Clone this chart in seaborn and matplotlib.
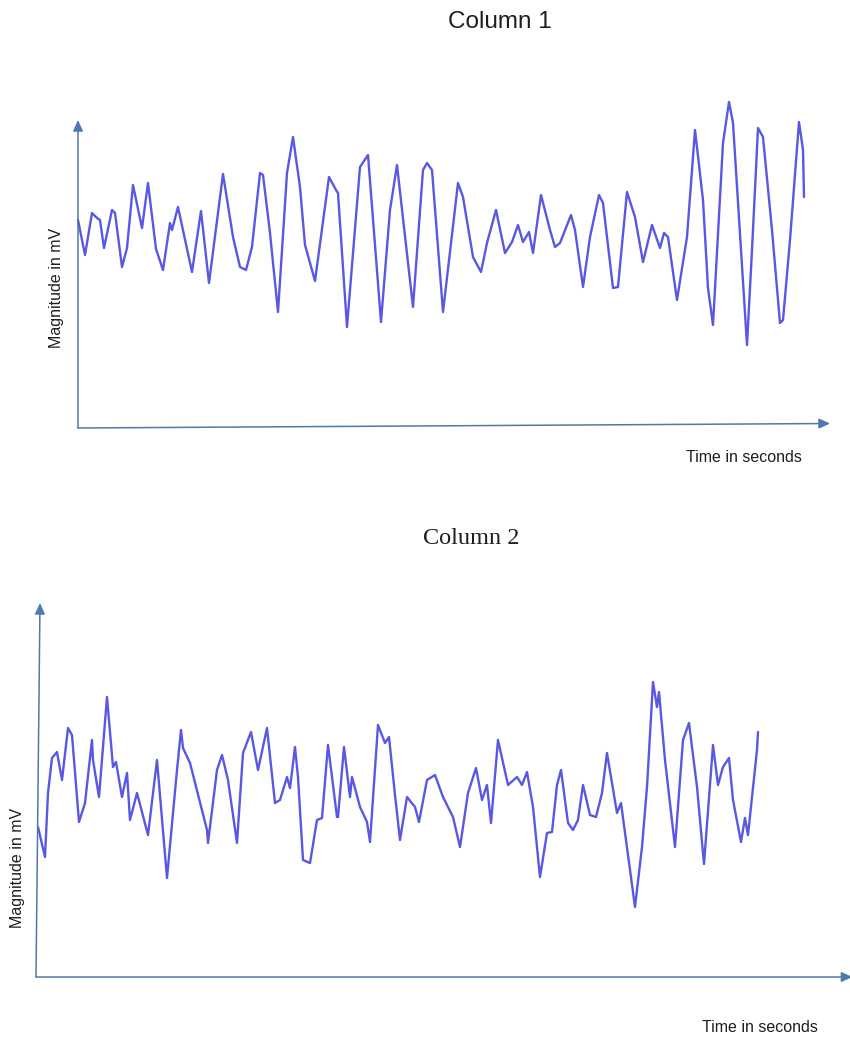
import matplotlib
matplotlib.use("Agg")
import matplotlib.pyplot as plt
import seaborn as sns
import pandas as pd

# ---- data (time in 10 ms steps, magnitude in 0.01 mV) ----
time_1 = [0, 7, 14, 19, 22, 26, 34, 37, 44, 49, 55, 64, 70, 78, 85, 92, 94, 100, 114, 123,
          131, 145, 155, 162, 168, 174, 182, 185, 192, 200, 209, 215, 222, 227, 237, 251, 258,
          260, 269, 282, 290, 303, 312, 319, 335, 345, 349, 354, 365, 380, 385, 395, 403, 409,
          418, 427, 434, 440, 445, 451, 455, 463, 472, 477, 482, 493, 497, 505, 512, 521, 525,
          535, 540, 549, 557, 565, 574, 582, 586, 590, 599, 609, 617, 625, 630, 635, 645, 651,
          655, 669, 674, 680, 685, 694, 702, 705, 712, 721, 725, 726]
mag_1 = [208, 173, 215, 210, 208, 180, 218, 215, 161, 180, 243, 200, 245, 179, 158, 205, 198,
         221, 156, 217, 145, 254, 191, 161, 158, 181, 255, 253, 195, 116, 255, 291, 241, 183,
         147, 251, 238, 235, 101, 261, 273, 106, 218, 263, 121, 258, 265, 258, 116, 245, 231,
         171, 156, 185, 218, 175, 186, 203, 186, 196, 175, 233, 198, 181, 185, 213, 198, 141,
         191, 233, 225, 140, 141, 236, 211, 166, 203, 180, 195, 191, 128, 191, 298, 228, 140,
         103, 285, 326, 305, 83, 178, 300, 291, 198, 105, 108, 188, 306, 278, 231]

time_2 = [2, 9, 12, 16, 21, 26, 32, 36, 43, 49, 56, 57, 63, 71, 77, 80, 86, 91, 94, 101, 112,
          121, 131, 141, 145, 147, 154, 171, 172, 181, 186, 192, 201, 207, 215, 222, 231, 239,
          244, 251, 254, 259, 262, 267, 274, 281, 286, 292, 301, 302, 308, 314, 316, 324, 331,
          334, 342, 349, 353, 359, 364, 371, 379, 383, 391, 399, 407, 417, 424, 432, 440, 446,
          451, 455, 462, 472, 481, 486, 491, 497, 504, 511, 516, 521, 525, 532, 537, 542, 547,
          554, 560, 566, 571, 581, 585, 599, 606, 611, 617, 621, 623, 629, 639, 647, 653, 661,
          668, 677, 682, 687, 693, 697, 705, 709, 712, 721, 722]
mag_2 = [150, 120, 184, 219, 225, 197, 249, 242, 155, 174, 237, 217, 180, 280, 210, 215, 180,
         204, 157, 184, 142, 217, 99, 207, 247, 229, 214, 147, 134, 207, 222, 197, 134, 224,
         245, 207, 249, 174, 177, 200, 189, 230, 200, 117, 114, 157, 159, 232, 160, 160, 230,
         180, 200, 170, 155, 135, 252, 234, 240, 182, 137, 180, 170, 155, 197, 202, 180, 160,
         130, 184, 209, 177, 192, 154, 237, 192, 200, 192, 205, 170, 100, 144, 145, 192, 207,
         154, 147, 157, 192, 162, 160, 184, 224, 164, 174, 70, 130, 190, 295, 270, 285, 217,
         130, 237, 254, 190, 113, 232, 192, 210, 219, 177, 135, 159, 142, 227, 245]

titles = ["Column 1", "Column 2"]
x_label = "Time in seconds"
y_label = "Magnitude in mV"

SIG = "#5858e2"
AX = "#4d7aaa"
TXT = "#1e1e1e"

sns.set_theme(style="white")
plt.rcParams["font.family"] = ["Liberation Sans", "DejaVu Sans"]

W, H = 850, 1037
fig = plt.figure(figsize=(W / 100, H / 100), dpi=100)
fig.patch.set_facecolor("white")

def fx(px):
    return px / W

def fy(py):
    return 1 - py / H

ax1 = fig.add_axes([fx(78), fy(428), 752 / W, 308 / H])
ax2 = fig.add_axes([fx(36), fy(977), 814 / W, 374 / H])

df1 = pd.DataFrame({"t": time_1, "v": mag_1})
df2 = pd.DataFrame({"t": time_2, "v": mag_2})

for ax, df in [(ax1, df1), (ax2, df2)]:
    sns.lineplot(data=df, x="t", y="v", ax=ax, color=SIG, lw=1.7, estimator=None,
                 sort=False, clip_on=False, solid_joinstyle="round")
ax1.set_xlim(0, 752)
ax1.set_ylim(0, 308)
ax2.set_xlim(0, 814)
ax2.set_ylim(0, 374)

arrow = dict(arrowstyle="-|>,head_length=0.55,head_width=0.25", color=AX, lw=1.1,
             shrinkA=0, shrinkB=0)
for ax, ytip, xend in [(ax1, (0.0, 1.0), (1.0, 0.0146)),
                       (ax2, (4 / 814, 1.0), (1.003, 0.0))]:
    ax.set_axis_off()
    ax.annotate("", xy=ytip, xytext=(0, 0), xycoords="axes fraction",
                textcoords="axes fraction", arrowprops=arrow, annotation_clip=False)
    ax.annotate("", xy=xend, xytext=(0, 0), xycoords="axes fraction",
                textcoords="axes fraction", arrowprops=arrow, annotation_clip=False)

fig.text(fx(500), fy(22), titles[0], ha="center", va="center", fontsize=17.5,
         color=TXT, family=["Liberation Sans", "DejaVu Sans"])
fig.text(fx(471), fy(538), titles[1], ha="center", va="center", fontsize=17.5,
         color=TXT, family=["Liberation Serif", "DejaVu Serif"])

fig.text(fx(57), fy(288), y_label, rotation=90, ha="center", va="center",
         fontsize=11.5, color=TXT)
fig.text(fx(18), fy(868), y_label, rotation=90, ha="center", va="center",
         fontsize=11.5, color=TXT)
fig.text(fx(744), fy(458), x_label, ha="center", va="center", fontsize=11.5, color=TXT)
fig.text(fx(760), fy(1027), x_label, ha="center", va="center", fontsize=11.5, color=TXT)

fig.savefig("out.png", dpi=100, facecolor="white")
